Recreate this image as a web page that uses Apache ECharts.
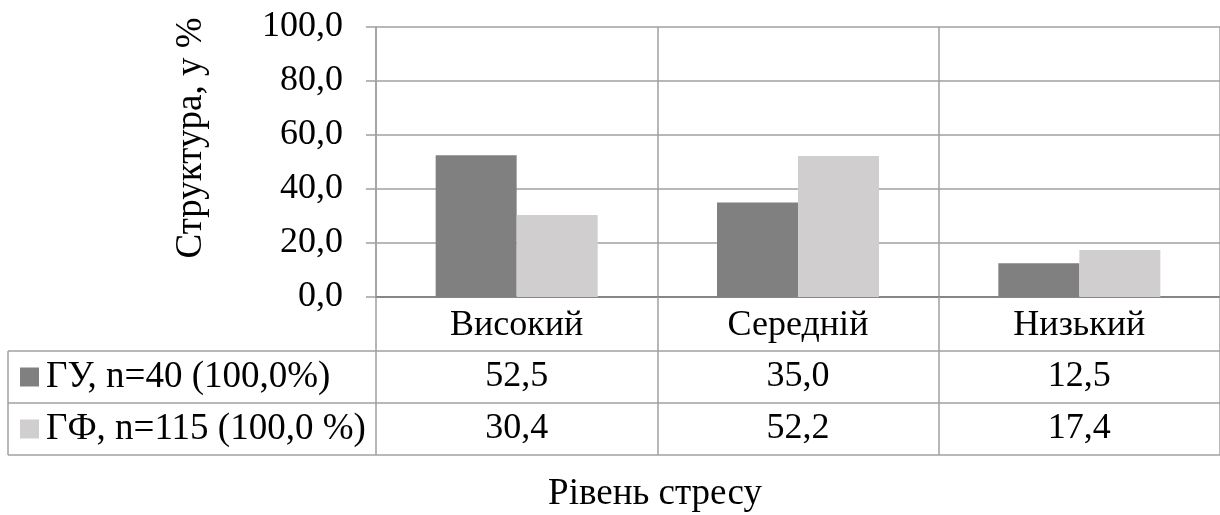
<!DOCTYPE html>
<html>
<head>
<meta charset="utf-8">
<script src="https://cdn.jsdelivr.net/npm/echarts@6.0.0/dist/echarts.min.js"></script>
<style>
  html, body { margin: 0; padding: 0; background: #fff; }
  #chart { width: 1220px; height: 515px; }
</style>
</head>
<body>
<div id="chart"></div>
<script>
var categories = ['Високий', 'Середній', 'Низький'];
var seriesNames = ['ГУ, n=40 (100,0%)', 'ГФ, n=115 (100,0 %)'];
var guValues = [52.5, 35.0, 12.5];
var gfValues = [30.4, 52.2, 17.4];
var yMin = 0, yMax = 100, yStep = 20;
var yTitle = 'Структура, у %';
var xTitle = 'Рівень стресу';

var FONT = 'Liberation Serif';
var FS = 36;      // tick labels and table values
var FS_BIG = 37;  // legend column and axis titles
var colors = ['#808080', '#d0cecf'];
var lineColor = '#a0a0a0';

function fmt(v) {
  return v.toFixed(1).replace('.', ',');
}

var chartDom = document.getElementById('chart');
var myChart = echarts.init(chartDom);
var option;

option = {
  animation: false,
  backgroundColor: '#fff',
  grid: { left: 376, right: -5, top: 27, bottom: 218, containLabel: false },
  xAxis: {
    type: 'category',
    data: categories,
    axisLine: { lineStyle: { color: '#868686', width: 2 } },
    axisTick: { show: true, length: 158, interval: 0, lineStyle: { color: lineColor, width: 1.5 } },
    splitLine: { show: true, interval: 0, lineStyle: { color: lineColor, width: 1.5 } },
    axisLabel: { color: '#000', fontFamily: FONT, fontSize: FS, margin: 11, interval: 0 }
  },
  yAxis: {
    type: 'value',
    min: yMin,
    max: yMax,
    interval: yStep,
    axisLine: { show: true, lineStyle: { color: lineColor, width: 1.5 } },
    axisTick: { show: true, length: 10, lineStyle: { color: lineColor, width: 1.5 } },
    splitLine: { lineStyle: { color: lineColor, width: 1.5 } },
    axisLabel: { color: '#000', fontFamily: FONT, fontSize: FS, margin: 33, formatter: fmt }
  },
  series: [
    {
      name: seriesNames[0],
      type: 'bar',
      data: guValues,
      barWidth: 81,
      barGap: '0%',
      itemStyle: { color: colors[0] }
    },
    {
      name: seriesNames[1],
      type: 'bar',
      data: gfValues,
      barWidth: 81,
      barGap: '0%',
      itemStyle: { color: colors[1] }
    }
  ]
};

option && myChart.setOption(option);

// data table under the axis, placed from the chart's own scales
var y0 = myChart.convertToPixel({ yAxisIndex: 0 }, 0);
var rowTops = [y0 + 54, y0 + 106, y0 + 158];
var tableLeft = 8;
var graphics = [];

rowTops.forEach(function (y) {
  graphics.push({
    type: 'line',
    shape: { x1: tableLeft, y1: y, x2: 1225, y2: y },
    style: { stroke: lineColor, lineWidth: 1.5 }
  });
});
graphics.push({
  type: 'line',
  shape: { x1: tableLeft, y1: rowTops[0], x2: tableLeft, y2: rowTops[2] },
  style: { stroke: lineColor, lineWidth: 1.5 }
});

var rows = [guValues, gfValues];
rows.forEach(function (vals, r) {
  var cy = (rowTops[r] + rowTops[r + 1]) / 2;
  graphics.push({
    type: 'rect',
    shape: { x: 20, y: cy - 9.5, width: 19, height: 19 },
    style: { fill: colors[r] }
  });
  graphics.push({
    type: 'text',
    x: 46, y: cy,
    style: { text: seriesNames[r], fill: '#000', font: FS_BIG + 'px "' + FONT + '"', textAlign: 'left', textVerticalAlign: 'middle' }
  });
  vals.forEach(function (v, i) {
    var cx = myChart.convertToPixel({ xAxisIndex: 0 }, categories[i]);
    graphics.push({
      type: 'text',
      x: cx, y: cy,
      style: { text: fmt(v), fill: '#000', font: FS + 'px "' + FONT + '"', textAlign: 'center', textVerticalAlign: 'middle' }
    });
  });
});

// axis titles
graphics.push({
  type: 'text',
  x: 655, y: 494,
  style: { text: xTitle, fill: '#000', font: FS_BIG + 'px "' + FONT + '"', textAlign: 'center', textVerticalAlign: 'middle' }
});
graphics.push({
  type: 'text',
  x: 191, y: 138,
  rotation: Math.PI / 2,
  style: { text: yTitle, fill: '#000', font: FS_BIG + 'px "' + FONT + '"', textAlign: 'center', textVerticalAlign: 'middle' }
});

myChart.setOption({ graphic: graphics });
</script>
</body>
</html>
